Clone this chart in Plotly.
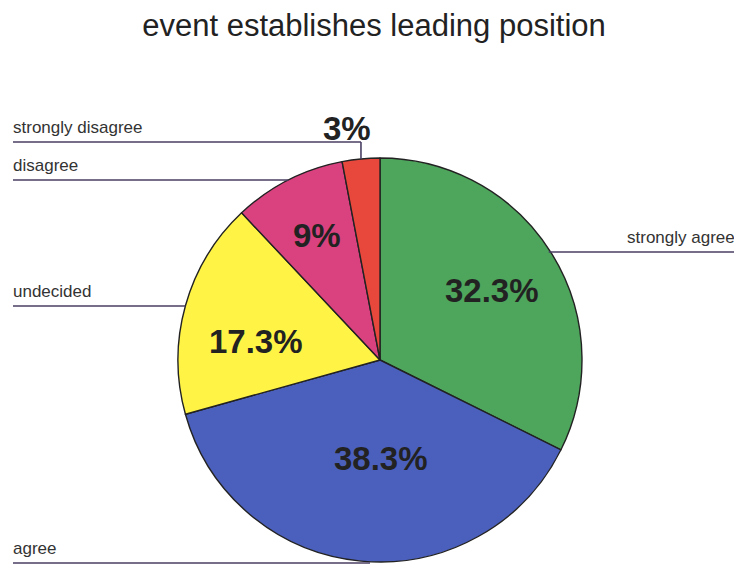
import math
import plotly.graph_objects as go

# data (clockwise from 12 o'clock)
labels = ["strongly agree", "agree", "undecided", "disagree", "strongly disagree"]
values = [32.3, 38.3, 17.3, 9.0, 3.0]
pct_text = ["32.3%", "38.3%", "17.3%", "9%", "3%"]
colors = ["#4ea55c", "#4b60bd", "#fff445", "#d9427f", "#e8483c"]

W, H = 742, 565
OFF = 8                              # page body margin of the html file
CX, CY, R = 380, 360, 202           # pie centre / radius in window pixels


def px(x):
    return (x - OFF) / W


def py(y):
    return 1 - (y - OFF) / H


def mid_angle(i):
    start = sum(values[:i]) / sum(values) * 360
    return start + values[i] / sum(values) * 180


def edge_x(y, side):
    return CX + side * math.sqrt(max(R * R - (y - CY) ** 2, 0))


fig = go.Figure(go.Pie(
    labels=labels, values=values, sort=False, direction="clockwise",
    rotation=0, textinfo="none", hoverinfo="label+percent",
    marker=dict(colors=colors, line=dict(color="#222222", width=1.4)),
    domain=dict(x=[px(CX - R), px(CX + R)], y=[py(CY + R), py(CY - R)]),
    showlegend=False,
))

FONT = "Liberation Sans, Arial, sans-serif"
LBL = dict(family=FONT, size=17, color="#333333")
PCT = dict(family=FONT, size=33, color="#222222")
LINE = dict(color="#4a3f63", width=1.6)

shapes, notes = [], []
# leader lines + category labels: (label index, line y, side)
leaders = [(4, 142, -1), (3, 180, -1), (2, 306, -1), (1, 563, -1), (0, 252, 1)]
for i, ly, side in leaders:
    if i == 4:
        a = math.radians(mid_angle(i))
        vx = CX + R * math.sin(a)
        vy = CY - R * math.cos(a)
        shapes.append(dict(type="line", xref="paper", yref="paper",
                           x0=px(13), x1=px(vx), y0=py(ly), y1=py(ly), line=LINE))
        shapes.append(dict(type="line", xref="paper", yref="paper",
                           x0=px(vx), x1=px(vx), y0=py(ly), y1=py(vy), line=LINE))
    elif side < 0:
        shapes.append(dict(type="line", xref="paper", yref="paper",
                           x0=px(13), x1=px(edge_x(ly, -1) if i != 1 else CX - 10),
                           y0=py(ly), y1=py(ly), line=LINE))
    else:
        shapes.append(dict(type="line", xref="paper", yref="paper",
                           x0=px(edge_x(ly, 1) - 2), x1=px(742), y0=py(ly), y1=py(ly),
                           line=LINE))
    notes.append(dict(text=labels[i], xref="paper", yref="paper",
                      x=px(11) if side < 0 else px(737), y=py(ly - 3),
                      xanchor="left" if side < 0 else "right", yanchor="bottom",
                      showarrow=False, font=LBL))

# percentage labels inside the slices
rfrac = [0.65, 0.49, 0.62, 0.69]
nudge = [0, -6, -7, 0]
for i, rf in enumerate(rfrac):
    a = math.radians(mid_angle(i) + nudge[i])
    notes.append(dict(text="<b>%s</b>" % pct_text[i], xref="paper", yref="paper",
                      x=px(CX + rf * R * math.sin(a)), y=py(CY - rf * R * math.cos(a)),
                      xanchor="center", yanchor="middle",
                      showarrow=False, font=PCT))
# the tiny slice gets its label above the pie
notes.append(dict(text="<b>%s</b>" % pct_text[4], xref="paper", yref="paper",
                  x=px(347), y=py(128), xanchor="center", yanchor="middle",
                  showarrow=False, font=PCT))

fig.update_layout(
    title=dict(text="event establishes leading position", x=px(374), y=py(25),
               xanchor="center", yanchor="middle",
               font=dict(family=FONT, size=31, color="#222222")),
    width=W, height=H, autosize=False,
    margin=dict(l=0, r=0, t=0, b=0),
    paper_bgcolor="white", plot_bgcolor="white",
    shapes=shapes, annotations=notes,
)
fig.write_html("out.html")
